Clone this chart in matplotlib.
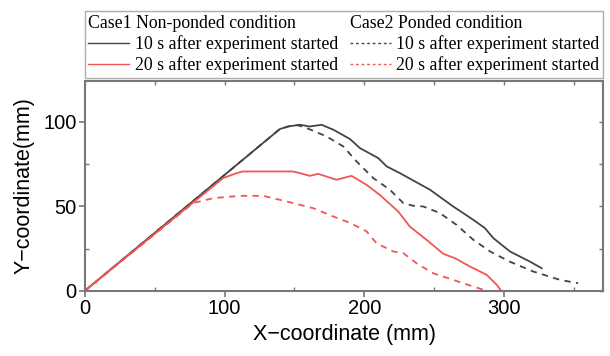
import matplotlib
matplotlib.use("Agg")
import matplotlib.pyplot as plt
from matplotlib.lines import Line2D
from matplotlib.ticker import MultipleLocator

# Case1 (non-ponded), 10 s
c1_10_x = [0, 139.6, 146, 154, 161, 169.4, 177.8, 189.7, 196.9, 210, 216, 225.5, 247, 263.6, 278, 286.3, 292.3, 304.2, 318.5, 326.9]
c1_10_y = [0, 95.7, 97.3, 98.2, 97.2, 98.2, 95.3, 89.8, 84.4, 78.5, 73.6, 69.6, 59.8, 49.9, 42, 37.1, 31.2, 23.3, 17.3, 13.4]
# Case1 (non-ponded), 20 s
c1_20_x = [0, 99, 108.6, 113, 149, 154, 161, 167, 180, 190.9, 201.6, 211, 224.3, 232.6, 244.5, 256.5, 264.9, 275.6, 287.5, 294.7, 298]
c1_20_y = [0, 66.7, 69.6, 70.6, 70.6, 69.6, 68, 69.2, 65.7, 68, 62.7, 56.8, 46.9, 38, 30.2, 21.9, 19.3, 14.4, 9.5, 3.6, 0]
# Case2 (ponded), 10 s
c2_10_x = [0, 139.6, 146, 152, 158.7, 173, 185, 194.5, 206.4, 218.3, 227.9, 235, 242.2, 254.1, 266, 278, 290, 304, 321, 340, 353]
c2_10_y = [0, 95.7, 97.3, 98.0, 96.3, 91.3, 85.4, 76.5, 66.7, 59.8, 51.9, 50.3, 49.9, 46, 39, 30.2, 23.3, 17.3, 11.4, 6.5, 4.5]
# Case2 (ponded), 20 s
c2_20_x = [0, 77.5, 91.8, 111, 127.6, 144.3, 163.4, 177.7, 189.7, 201.6, 208.8, 220.7, 227.9, 237.4, 249.3, 263.6, 278, 288]
c2_20_y = [0, 51.9, 54.8, 56.2, 56.2, 52.9, 48.9, 44, 40.2, 35.2, 28.1, 23.3, 22.3, 16.3, 10.4, 6.5, 2.5, 0]

labels_head = ["Case1 Non-ponded condition", "Case2 Ponded condition"]
label_10 = "10 s after experiment started"
label_20 = "20 s after experiment started"

BLACK = "#444444"
RED = "#f25555"
SPINE = "#777777"

fig = plt.figure(figsize=(6.1, 3.56), dpi=100)
ax = fig.add_axes([0.139, 0.183, 0.850, 0.589])

lw = 1.3
ax.plot(c1_10_x, c1_10_y, color=BLACK, lw=lw, ls="-")
ax.plot(c2_10_x, c2_10_y, color=BLACK, lw=lw, ls=(0, (3.5, 3)))
ax.plot(c1_20_x, c1_20_y, color=RED, lw=lw, ls="-")
ax.plot(c2_20_x, c2_20_y, color=RED, lw=lw, ls=(0, (3.5, 3)))

ax.set_xlim(0, 371)
ax.set_ylim(0, 124)
ax.xaxis.set_major_locator(MultipleLocator(100))
ax.xaxis.set_minor_locator(MultipleLocator(50))
ax.yaxis.set_major_locator(MultipleLocator(50))
ax.yaxis.set_minor_locator(MultipleLocator(25))

for s in ax.spines.values():
    s.set_color(SPINE)
    s.set_linewidth(1.5)

ax.tick_params(which="major", direction="out", length=4, width=1.2, color=SPINE,
               labelsize=14.5, pad=2)
ax.tick_params(which="minor", direction="in", length=3, width=1.0, color=SPINE)
for lab in ax.get_xticklabels() + ax.get_yticklabels():
    lab.set_family("Liberation Sans")

# inward ticks on top and right
top = ax.secondary_xaxis("top")
top.xaxis.set_major_locator(MultipleLocator(50))
top.tick_params(direction="in", length=3, width=1.0, color=SPINE, labeltop=False)
top.spines["top"].set_visible(False)
right = ax.secondary_yaxis("right")
right.yaxis.set_major_locator(MultipleLocator(25))
right.tick_params(direction="in", length=3, width=1.0, color=SPINE, labelright=False)
right.spines["right"].set_visible(False)

ax.set_xlabel("X\u2212coordinate (mm)", fontsize=15.5, family="Liberation Sans", labelpad=4)
ax.set_ylabel("Y\u2212coordinate(mm)", fontsize=15.5, family="Liberation Sans", labelpad=6)

blank = Line2D([], [], color="none")
handles = [blank,
           Line2D([], [], color=BLACK, lw=1.0),
           Line2D([], [], color=RED, lw=1.0),
           blank,
           Line2D([], [], color=BLACK, lw=1.0, ls=(0, (2, 2))),
           Line2D([], [], color=RED, lw=1.0, ls=(0, (2, 2)))]
labels = [labels_head[0], label_10, label_20, labels_head[1], label_10, label_20]
leg = ax.legend(handles, labels, ncol=2, loc="lower left",
                bbox_to_anchor=(0.0, 1.015, 1.0, 0.3), mode="expand",
                prop={"family": "Liberation Serif", "size": 12.8},
                frameon=True, fancybox=False, edgecolor="#999999",
                handlelength=2.3, handletextpad=0.3, labelspacing=0.2,
                borderpad=0.2, borderaxespad=0.0, columnspacing=0.3)
leg.get_frame().set_linewidth(1.0)

# remove handle space for the header rows
try:
    cols = leg._legend_handle_box.get_children()
    for col in cols:
        rows = col.get_children()
        hp = rows[0]
        da = hp.get_children()[0]
        da.width = 0
        hp.sep = 0
except Exception:
    pass

fig.savefig("out.png", dpi=100)
